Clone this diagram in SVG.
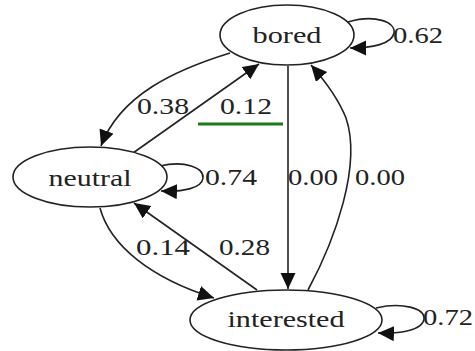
<svg xmlns="http://www.w3.org/2000/svg" width="475" height="351" viewBox="0 0 475 351">
<defs>
<style>
.node ellipse{fill:#fff;stroke:#222;stroke-width:1.6}
.node text,.lbl{font-family:"Liberation Serif","Times New Roman",Times,serif;font-size:23px;fill:#222}
.node text{text-anchor:middle}
#edges path{fill:none;stroke:#222;stroke-width:1.6}
</style>
<marker id="ah" markerUnits="userSpaceOnUse" markerWidth="20" markerHeight="18" refX="16" refY="7.5" orient="auto">
<path d="M0,0 L16,7.5 L0,15 Z" fill="#111"/>
</marker>
</defs>
<rect width="475" height="351" fill="#fff"/>
<g id="edges">
<path d="M348,22 C375,14 396,22 394,33 C392,44 372,48 350,48" marker-end="url(#ah)"/>
<path d="M230,53 C175,70 120,95 101,146" marker-end="url(#ah)"/>
<path d="M133,153 L259,64" marker-end="url(#ah)"/>
<path d="M288,66 L288,289" marker-end="url(#ah)"/>
<path d="M308,290 C335,240 362,165 346,118 C338,98 326,82 311,65" marker-end="url(#ah)"/>
<path d="M100,208 C110,245 150,278 214,298" marker-end="url(#ah)"/>
<path d="M257,290 L134,203" marker-end="url(#ah)"/>
<path d="M160,166 C185,160 204,168 203,178 C202,188 184,192 161,191" marker-end="url(#ah)"/>
<path d="M376,308 C402,302 425,308 424,319 C423,330 400,334 378,333" marker-end="url(#ah)"/>
<line x1="198" y1="124" x2="283" y2="124" stroke="#1a7a1a" stroke-width="3.2"/>
</g>
<g id="bored" class="node"><ellipse cx="287" cy="35" rx="67" ry="30"/><text x="287" y="43" textLength="69" lengthAdjust="spacingAndGlyphs">bored</text></g>
<g id="neutral" class="node"><ellipse cx="90" cy="177" rx="77" ry="30"/><text x="90" y="186" textLength="83" lengthAdjust="spacingAndGlyphs">neutral</text></g>
<g id="interested" class="node"><ellipse cx="286" cy="320" rx="96" ry="30"/><text x="286" y="327" textLength="117" lengthAdjust="spacingAndGlyphs">interested</text></g>
<g id="labels">
<text class="lbl" x="393" y="43" textLength="50" lengthAdjust="spacingAndGlyphs">0.62</text>
<text class="lbl" x="137" y="114" textLength="52" lengthAdjust="spacingAndGlyphs">0.38</text>
<text class="lbl" x="220" y="114" textLength="52" lengthAdjust="spacingAndGlyphs">0.12</text>
<text class="lbl" x="205" y="185" textLength="52" lengthAdjust="spacingAndGlyphs">0.74</text>
<text class="lbl" x="288" y="185" textLength="50" lengthAdjust="spacingAndGlyphs">0.00</text>
<text class="lbl" x="355" y="185" textLength="50" lengthAdjust="spacingAndGlyphs">0.00</text>
<text class="lbl" x="136" y="255" textLength="54" lengthAdjust="spacingAndGlyphs">0.14</text>
<text class="lbl" x="219" y="255" textLength="51" lengthAdjust="spacingAndGlyphs">0.28</text>
<text class="lbl" x="423" y="325" textLength="50" lengthAdjust="spacingAndGlyphs">0.72</text>
</g>
</svg>
